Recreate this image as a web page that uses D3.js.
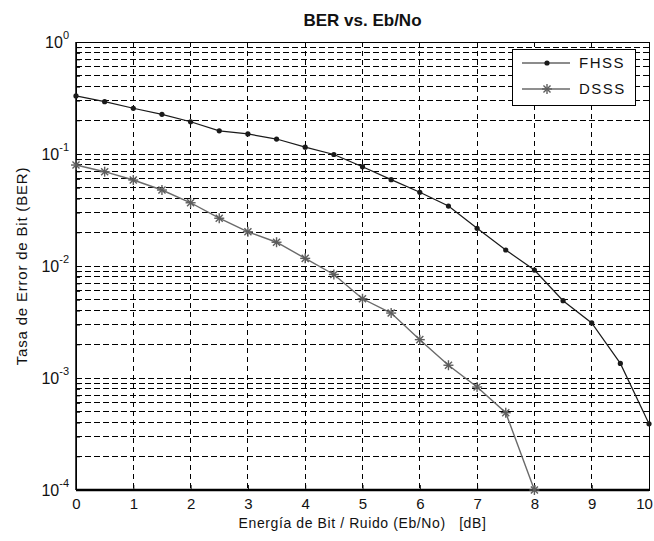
<!DOCTYPE html>
<html><head><meta charset="utf-8">
<script src="https://cdn.jsdelivr.net/npm/d3@7"></script>
<style>
html,body{margin:0;padding:0;background:#fff;}
text{font-family:"Liberation Sans",Arial,sans-serif;fill:#111;}
</style></head>
<body><svg id="c" width="654" height="541"></svg>
<script>
const ebno = [0,0.5,1,1.5,2,2.5,3,3.5,4,4.5,5,5.5,6,6.5,7,7.5,8,8.5,9,9.5,10];
const fhss = [0.33,0.293,0.256,0.226,0.194,0.161,0.151,0.136,0.115,0.099,0.077,0.059,0.0455,0.0343,0.0217,0.0139,0.0092,0.0049,0.0031,0.00135,0.00039];
const ebnoDsss = [0,0.5,1,1.5,2,2.5,3,3.5,4,4.5,5,5.5,6,6.5,7,7.5,8];
const dsss = [0.0797,0.0695,0.0586,0.0477,0.0367,0.0267,0.0202,0.0163,0.0117,0.0084,0.0051,0.0038,0.0022,0.0013,0.00083,0.00049,0.0001];
const xTicks = [0,1,2,3,4,5,6,7,8,9,10];
const yExponents = [0,-1,-2,-3,-4];
const seriesNames = ["FHSS","DSSS"];
const title = "BER vs. Eb/No";
const xLabel = "Energía de Bit / Ruido (Eb/No)   [dB]";
const yLabel = "Tasa de Error de Bit (BER)";

const L=76,R=649,T=42,B=490;
const svg=d3.select("#c");
const x=d3.scaleLinear().domain([0,10]).range([L,R]);
const y=d3.scaleLog().domain([1e-4,1]).range([B,T]);

// grid
const g=svg.append("g");
const minorY=[];
for(let e=-4;e<0;e++) for(let k=1;k<10;k++) minorY.push(k*Math.pow(10,e));
minorY.push(1);
g.selectAll("line.hy").data(minorY).join("line")
 .attr("x1",L).attr("x2",R).attr("y1",d=>y(d)).attr("y2",d=>y(d))
 .attr("stroke","#000").attr("stroke-width",1).attr("stroke-dasharray","6,3").attr("shape-rendering","crispEdges");
g.selectAll("line.vx").data(xTicks.slice(1,-1)).join("line")
 .attr("x1",d=>x(d)).attr("x2",d=>x(d)).attr("y1",T).attr("y2",B)
 .attr("stroke","#000").attr("stroke-width",1).attr("stroke-dasharray","5,4").attr("shape-rendering","crispEdges");

// box
svg.append("rect").attr("x",L).attr("y",T).attr("width",R-L).attr("height",B-T)
 .attr("fill","none").attr("stroke","#000").attr("stroke-width",1).attr("shape-rendering","crispEdges");
svg.append("line").attr("x1",L).attr("x2",R).attr("y1",B).attr("y2",B).attr("stroke","#000").attr("stroke-width",2.5);
svg.append("line").attr("x1",L).attr("x2",L).attr("y1",T).attr("y2",B).attr("stroke","#000").attr("stroke-width",1.5);

// ticks (inside)
const xAx=d3.axisBottom(x).tickValues(xTicks).tickSize(-5).tickPadding(8).tickFormat(d3.format("d"));
const xg=svg.append("g").attr("transform",`translate(0,${B})`).call(xAx);
xg.select(".domain").remove();
xg.selectAll("text").attr("font-size",15).style("fill","#111").attr("dy","0.71em")
  .attr("dx",d=>d===10?-5:0);
xg.selectAll("line").attr("stroke","#000");
const yAx=d3.axisLeft(y).tickValues(minorY).tickSize(-4).tickFormat("");
const yg=svg.append("g").attr("transform",`translate(${L},0)`).call(yAx);
yg.select(".domain").remove();
yg.selectAll("line").attr("stroke","#000");

// y tick labels
yExponents.forEach(e=>{
  const t=svg.append("text").attr("x",69).attr("y",y(Math.pow(10,e))+6)
   .attr("text-anchor","end").attr("font-size",16);
  t.append("tspan").text("10");
  t.append("tspan").attr("dy",-9).attr("font-size",11).text(e);
});

// lines
const line=d3.line().x(d=>x(d[0])).y(d=>y(d[1]));
const fData=ebno.map((d,i)=>[d,fhss[i]]);
const dData=ebnoDsss.map((d,i)=>[d,dsss[i]]);
svg.append("path").datum(fData).attr("d",line).attr("fill","none").attr("stroke","#1a1a1a").attr("stroke-width",1.2);
svg.append("path").datum(dData).attr("d",line).attr("fill","none").attr("stroke","#6a6a6a").attr("stroke-width",1.4);
svg.selectAll("circle.f").data(fData).join("circle").attr("cx",d=>x(d[0])).attr("cy",d=>y(d[1])).attr("r",2.6).attr("fill","#1a1a1a");
const star=(s,cx,cy,r,col)=>{
  [[0,1],[1,0],[0.707,0.707],[0.707,-0.707]].forEach(([a,b])=>{
    s.append("line").attr("x1",cx-a*r).attr("x2",cx+a*r).attr("y1",cy-b*r).attr("y2",cy+b*r)
     .attr("stroke",col).attr("stroke-width",1.4);
  });
};
const sg=svg.append("g");
dData.forEach(d=>star(sg,x(d[0]),y(d[1]),5,"#5e5e5e"));

// legend
const lg=svg.append("g");
lg.append("rect").attr("x",512).attr("y",49).attr("width",123).attr("height",56)
 .attr("fill","#fff").attr("stroke","#000").attr("stroke-width",1).attr("shape-rendering","crispEdges");
lg.append("line").attr("x1",522).attr("x2",570).attr("y1",63).attr("y2",63).attr("stroke","#1a1a1a").attr("stroke-width",1.2);
lg.append("circle").attr("cx",547).attr("cy",63).attr("r",2.6).attr("fill","#1a1a1a");
lg.append("line").attr("x1",522).attr("x2",570).attr("y1",89).attr("y2",89).attr("stroke","#6a6a6a").attr("stroke-width",1.4);
star(lg,547,89,5,"#5e5e5e");
lg.append("text").attr("x",579).attr("y",68).attr("font-size",15).attr("letter-spacing",1.5).text(seriesNames[0]);
lg.append("text").attr("x",579).attr("y",94).attr("font-size",15).attr("letter-spacing",1.5).text(seriesNames[1]);

// titles
svg.append("text").attr("x",(L+R)/2).attr("y",26).attr("text-anchor","middle")
 .attr("font-size",17).attr("font-weight","bold").text(title);
svg.append("text").attr("x",(L+R)/2).attr("y",528).attr("text-anchor","middle")
 .attr("font-size",14).attr("letter-spacing",0.6).attr("xml:space","preserve").style("white-space","pre").text(xLabel);
svg.append("text").attr("transform",`translate(27,${(T+B)/2}) rotate(-90)`).attr("text-anchor","middle")
 .attr("font-size",15).attr("letter-spacing",0.8).text(yLabel);
</script></body></html>
